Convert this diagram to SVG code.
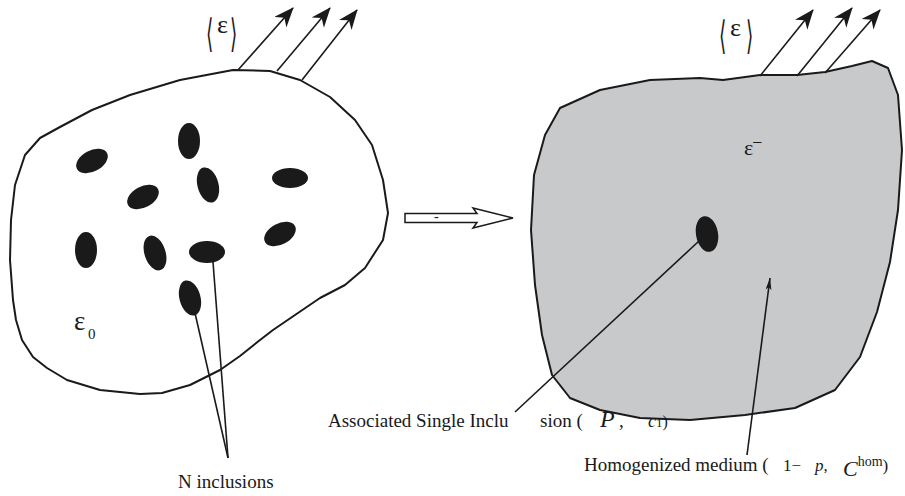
<svg xmlns="http://www.w3.org/2000/svg" width="905" height="496" viewBox="0 0 905 496">
<style>
.outline{fill:none;stroke:#1a1a1a;stroke-width:2;stroke-linejoin:round;stroke-linecap:round}
.inc{fill:#1a1a1a}
.ln{stroke:#1a1a1a;stroke-width:1.6;fill:none}
.t{font-family:"Liberation Serif","Times New Roman",serif;fill:#1a1a1a}
.br{font-family:"DejaVu Sans","DejaVu Serif",sans-serif;fill:#1a1a1a;font-size:34px}
</style>
<defs>
<marker id="ah" markerUnits="userSpaceOnUse" markerWidth="24" markerHeight="20" refX="19" refY="8" orient="auto">
<path d="M0,0 L20,8 L0,16 L6,8 z" fill="#1a1a1a"/>
</marker>
<marker id="ahs" markerUnits="userSpaceOnUse" markerWidth="14" markerHeight="10" refX="12" refY="3" orient="auto">
<path d="M0,0 L12,3 L0,6 L3,3 z" fill="#1a1a1a"/>
</marker>
</defs>
<rect width="905" height="496" fill="#ffffff"/>

<g id="left-body">
<path class="outline" d="M180,80 L233,70 L270,71 L300,80 L330,97 L355,120 L372,145 L383,180 L388,213 L383,240 L365,268 L345,285 L320,298 L295,315 L273,330 L260,340 L240,356 L220,370 L190,385 L162,393 L140,394 L100,390 L67,380 L47,368 L33,357 L22,340 L16,320 L13,300 L10,260 L11,220 L15,185 L25,155 L40,138 L60,127 L92,110 L130,95 Z"/>
<ellipse class="inc" cx="189" cy="141" rx="11" ry="18"/>
<ellipse class="inc" cx="92" cy="161" rx="17" ry="10.5" transform="rotate(-28 92 161)"/>
<ellipse class="inc" cx="143" cy="197" rx="17" ry="10.5" transform="rotate(-28 143 197)"/>
<ellipse class="inc" cx="208" cy="185" rx="10.5" ry="18" transform="rotate(-15 208 185)"/>
<ellipse class="inc" cx="290" cy="178" rx="18" ry="10"/>
<ellipse class="inc" cx="280" cy="234" rx="17" ry="10.5" transform="rotate(-28 280 234)"/>
<ellipse class="inc" cx="86" cy="250" rx="11" ry="18"/>
<ellipse class="inc" cx="155" cy="253" rx="10.5" ry="18" transform="rotate(-18 155 253)"/>
<ellipse class="inc" cx="207" cy="252" rx="18" ry="11"/>
<ellipse class="inc" cx="190" cy="298" rx="10.5" ry="18" transform="rotate(-15 190 298)"/>
<text class="t" x="74" y="330" font-size="27">ε</text>
<text class="t" x="88" y="339" font-size="15">0</text>
</g>

<g id="right-body">
<path class="outline" style="fill:#c8c9cb" d="M560,108 L600,90 L650,80 L700,78 L723,80 L760,75 L797,75 L825,72 L852,66 L872,61 L888,68 L898,95 L902,150 L898,210 L890,262 L877,312 L860,357 L835,390 L795,408 L745,415 L690,420 L640,418 L600,410 L570,398 L552,375 L542,335 L535,285 L531,230 L534,175 L545,135 Z"/>
<ellipse class="inc" cx="707" cy="234" rx="11" ry="18" transform="rotate(-10 707 234)"/>
<text class="t" x="744" y="155" font-size="22">ε<tspan font-size="16">¯</tspan></text>
</g>

<g id="transform-arrow">
<path d="M405,213.5 L477,213.5 L473,208 L513,218 L473,228 L477,222.5 L405,222.5 Z" fill="#ffffff" stroke="#1a1a1a" stroke-width="1.5" stroke-linejoin="miter"/>
<text class="t" x="434" y="221" font-size="14">-</text>
</g>

<g id="connectors">
<line class="ln" x1="238" y1="70" x2="293" y2="8" marker-end="url(#ah)"/>
<line class="ln" x1="277" y1="71" x2="330" y2="8" marker-end="url(#ah)"/>
<line class="ln" x1="302" y1="80" x2="357" y2="10" marker-end="url(#ah)"/>
<line class="ln" x1="760" y1="76" x2="813" y2="10" marker-end="url(#ah)"/>
<line class="ln" x1="797" y1="76" x2="852" y2="8" marker-end="url(#ah)"/>
<line class="ln" x1="825" y1="73" x2="880" y2="10" marker-end="url(#ah)"/>
<line class="ln" x1="213" y1="262" x2="228" y2="458"/>
<line class="ln" x1="195" y1="313" x2="228" y2="458"/>
<line class="ln" x1="699" y1="241" x2="515" y2="412"/>
<line class="ln" x1="747" y1="455" x2="770" y2="278" marker-end="url(#ahs)"/>
</g>

<g id="labels">
<text class="br" transform="translate(206,47) scale(0.55,1.15)">⟨</text>
<text class="t" x="217" y="33" font-size="26">ε</text>
<text class="br" transform="translate(230,47) scale(0.55,1.15)">⟩</text>
<text class="br" transform="translate(719,49) scale(0.55,1.15)">⟨</text>
<text class="t" x="730" y="36" font-size="26">ε</text>
<text class="br" transform="translate(746,49) scale(0.55,1.15)">⟩</text>
<text class="t" x="178" y="488" font-size="19">N inclusions</text>
<text class="t" x="328" y="427" font-size="19">Associated Single Inclu<tspan x="540">sion (</tspan><tspan x="600" font-style="italic" font-size="24">P</tspan><tspan x="619">,</tspan><tspan x="648" font-style="italic" font-size="18">c</tspan><tspan font-size="13">1</tspan><tspan font-size="16">)</tspan></text>
<text class="t" x="584" y="471" font-size="19">Homogenized medium (<tspan x="783" font-size="17">1−</tspan><tspan x="815" font-style="italic" font-size="17">p</tspan><tspan font-size="17">,</tspan><tspan x="843" y="476" font-style="italic" font-size="22">C</tspan><tspan y="466" font-size="14">hom</tspan><tspan y="471" font-size="17">)</tspan></text>
</g>
</svg>
